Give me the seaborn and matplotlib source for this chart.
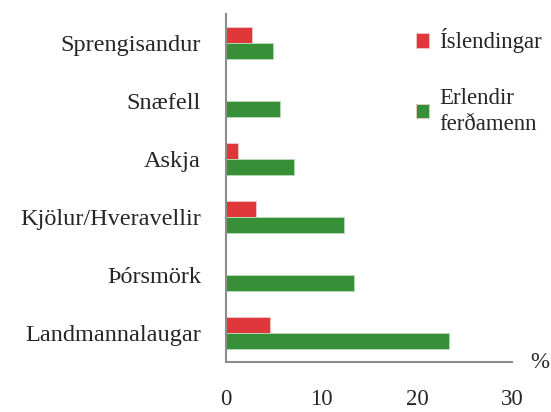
import pandas as pd
import matplotlib.pyplot as plt
import seaborn as sns

places = ['Sprengisandur', 'Snæfell', 'Askja', 'Kjölur/Hveravellir',
          'Þórsmörk', 'Landmannalaugar']
islendingar = [2.7, 0.0, 1.3, 3.1, 0.0, 4.6]
erlendir = [4.9, 5.7, 7.1, 12.4, 13.4, 23.4]
series = ['Íslendingar', 'Erlendir\nferðamenn']

df = pd.DataFrame({
    'place': places * 2,
    'value': islendingar + erlendir,
    'group': [series[0]] * len(places) + [series[1]] * len(places),
})

sns.set_style('white')
plt.rcParams['font.family'] = ['Liberation Serif', 'DejaVu Serif']
fs = 16.5

fig, ax = plt.subplots(figsize=(5.51, 4.12), dpi=100)
sns.barplot(data=df, y='place', x='value', hue='group', order=places,
            hue_order=series, palette=['#e0383a', '#378f38'], width=0.55,
            saturation=1, orient='h', ax=ax, edgecolor='#f2c9c9',
            linewidth=0.6)
for bar in ax.containers[1]:
    bar.set_edgecolor('#b8dcb8')

ax.set_xlim(0, 30)
ax.set_xticks([0, 10, 20, 30])
ax.set_ylim(5.5, -0.5)
ax.set_xlabel('')
ax.set_ylabel('')
for s in ['top', 'right']:
    ax.spines[s].set_visible(False)
for s in ['left', 'bottom']:
    ax.spines[s].set_color('#8c8c8c')
    ax.spines[s].set_linewidth(1.5)
ax.tick_params(axis='x', direction='out', length=5, width=1.5,
               color='#8c8c8c', pad=14, labelsize=fs)
ax.tick_params(axis='y', length=0, pad=18, labelsize=17.5)
ax.text(1.095, 0.0, '%', transform=ax.transAxes, fontsize=fs,
        ha='center', va='center')

leg = ax.legend(loc='upper left', bbox_to_anchor=(0.63, 0.985),
                frameon=False, fontsize=fs, handlelength=0.6,
                handleheight=0.6, handletextpad=0.45, labelspacing=1.5,
                borderaxespad=0)
for t in leg.get_texts():
    t.set_linespacing(1.3)

plt.subplots_adjust(left=0.41, right=0.93, top=0.966, bottom=0.121)
plt.savefig('out.png')
